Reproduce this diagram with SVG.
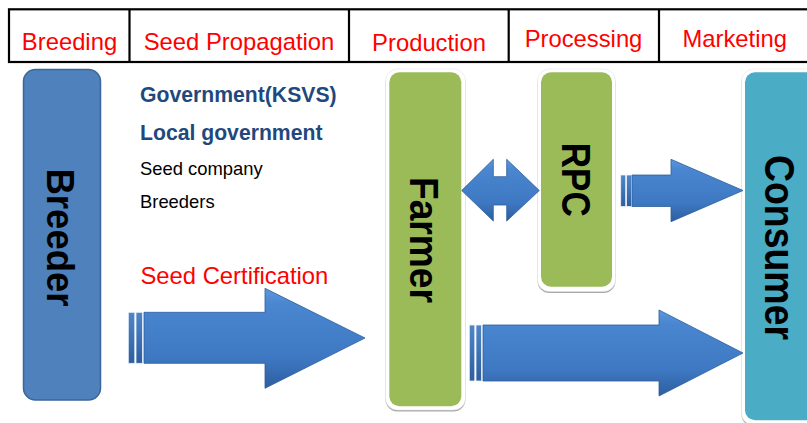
<svg xmlns="http://www.w3.org/2000/svg" width="807" height="423" viewBox="0 0 807 423">
<defs>
<linearGradient id="ag" x1="0" y1="0" x2="0" y2="1">
<stop offset="0" stop-color="#5E98DC"/>
<stop offset="0.15" stop-color="#4A87D0"/>
<stop offset="0.7" stop-color="#3E78C2"/>
<stop offset="1" stop-color="#2D5E9F"/>
</linearGradient>
<linearGradient id="sg" x1="0" y1="0" x2="0" y2="1">
<stop offset="0" stop-color="#4F86C8"/>
<stop offset="1" stop-color="#2D5E9F"/>
</linearGradient>
<style>
.hdr{font-family:"Liberation Sans",Arial,sans-serif;font-size:23.8px;fill:#FF0000;text-anchor:middle}
.lbl{font-family:"Liberation Sans",Arial,sans-serif;font-weight:bold;fill:#000;text-anchor:middle}
.blue{font-family:"Liberation Sans",Arial,sans-serif;font-weight:bold;font-size:21.2px;fill:#1F497D}
.blk{font-family:"Liberation Sans",Arial,sans-serif;font-size:18.4px;fill:#000}
.arrow{fill:url(#ag);stroke:#2E5E9C;stroke-width:0.8}
.stripe{fill:url(#sg);stroke:#EAF1FA;stroke-width:0.8}
.shadow{fill:#A8A8A8}
.halo{fill:#FFFFFF;stroke:#E4E4E4;stroke-width:0.6}
</style>
</defs>

<g id="header">
<rect x="9" y="9.3" width="820" height="52.7" fill="none" stroke="#000" stroke-width="2.2"/>
<line x1="129.5" y1="9" x2="129.5" y2="62" stroke="#000" stroke-width="2.2"/>
<line x1="349" y1="9" x2="349" y2="62" stroke="#000" stroke-width="2.2"/>
<line x1="508.7" y1="9" x2="508.7" y2="62" stroke="#000" stroke-width="2.2"/>
<line x1="659" y1="9" x2="659" y2="62" stroke="#000" stroke-width="2.2"/>
<text class="hdr" x="69.5" y="50">Breeding</text>
<text class="hdr" x="239" y="50">Seed Propagation</text>
<text class="hdr" x="429" y="51">Production</text>
<text class="hdr" x="583.5" y="47">Processing</text>
<text class="hdr" x="734.7" y="47">Marketing</text>
</g>

<g id="breeder">
<rect x="23.5" y="69.5" width="77" height="330.5" rx="12" fill="#4F81BD" stroke="#3B6699" stroke-width="1.5"/>
<text class="lbl" font-size="39" textLength="138" lengthAdjust="spacingAndGlyphs" transform="translate(47,237.5) rotate(90)">Breeder</text>
</g>

<g id="actors">
<text class="blue" x="140" y="101.7">Government(KSVS)</text>
<text class="blue" x="140" y="140">Local government</text>
<text class="blk" x="140" y="175">Seed company</text>
<text class="blk" x="140" y="208.3">Breeders</text>
<text x="140.5" y="283.5" font-family="Liberation Sans, Arial, sans-serif" font-size="23.8" fill="#FF0000">Seed Certification</text>
</g>

<g id="farmer">
<rect class="shadow" x="385.5" y="70.5" width="80" height="341" rx="12"/>
<rect class="halo" x="385.5" y="69" width="80" height="341" rx="12"/>
<rect x="389.3" y="72.3" width="72" height="334" rx="10" fill="#9BBB59"/>
<text class="lbl" font-size="41" textLength="126" lengthAdjust="spacingAndGlyphs" transform="translate(410,240) rotate(90)">Farmer</text>
</g>

<g id="rpc">
<rect class="shadow" x="537.5" y="70.5" width="78" height="222.5" rx="12"/>
<rect class="halo" x="537.5" y="69" width="78" height="222.5" rx="12"/>
<rect x="541" y="72.3" width="71" height="214.5" rx="10" fill="#9BBB59"/>
<text class="lbl" font-size="40" textLength="74" lengthAdjust="spacingAndGlyphs" transform="translate(561.7,179.7) rotate(90)">RPC</text>
</g>

<g id="consumer">
<rect class="shadow" x="741.5" y="70.5" width="80" height="356" rx="12"/>
<rect class="halo" x="741.5" y="69" width="80" height="356" rx="12"/>
<rect x="745" y="72.3" width="75" height="348" rx="10" fill="#4BACC6"/>
<text class="lbl" font-size="42" textLength="185" lengthAdjust="spacingAndGlyphs" transform="translate(765,247.5) rotate(90)">Consumer</text>
</g>

<g id="connectors">
<rect class="stripe" x="128.3" y="312.3" width="6.5" height="51"/>
<rect class="stripe" x="136" y="312.3" width="6.5" height="51"/>
<path class="arrow" d="M144,312.3 L265,312.3 L265,288.3 L365,338 L265,388.3 L265,363.3 L144,363.3 Z"/>

<rect class="stripe" x="469.3" y="325" width="5.5" height="56"/>
<rect class="stripe" x="476" y="325" width="5.5" height="56"/>
<path class="arrow" d="M483,325 L659,325 L659,310 L743,353 L659,396 L659,381 L483,381 Z"/>

<rect class="stripe" x="620.7" y="175" width="5" height="31.5"/>
<rect class="stripe" x="626.5" y="175" width="5" height="31.5"/>
<path class="arrow" d="M632,175 L671,175 L671,159.3 L743,190.5 L671,221.7 L671,206.5 L632,206.5 Z"/>

<path class="arrow" d="M461.7,190.5 L493.3,159.3 L493.3,176.7 L506.7,176.7 L506.7,159.3 L539.3,190.5 L506.7,221 L506.7,205 L493.3,205 L493.3,221 Z"/>
</g>
</svg>
